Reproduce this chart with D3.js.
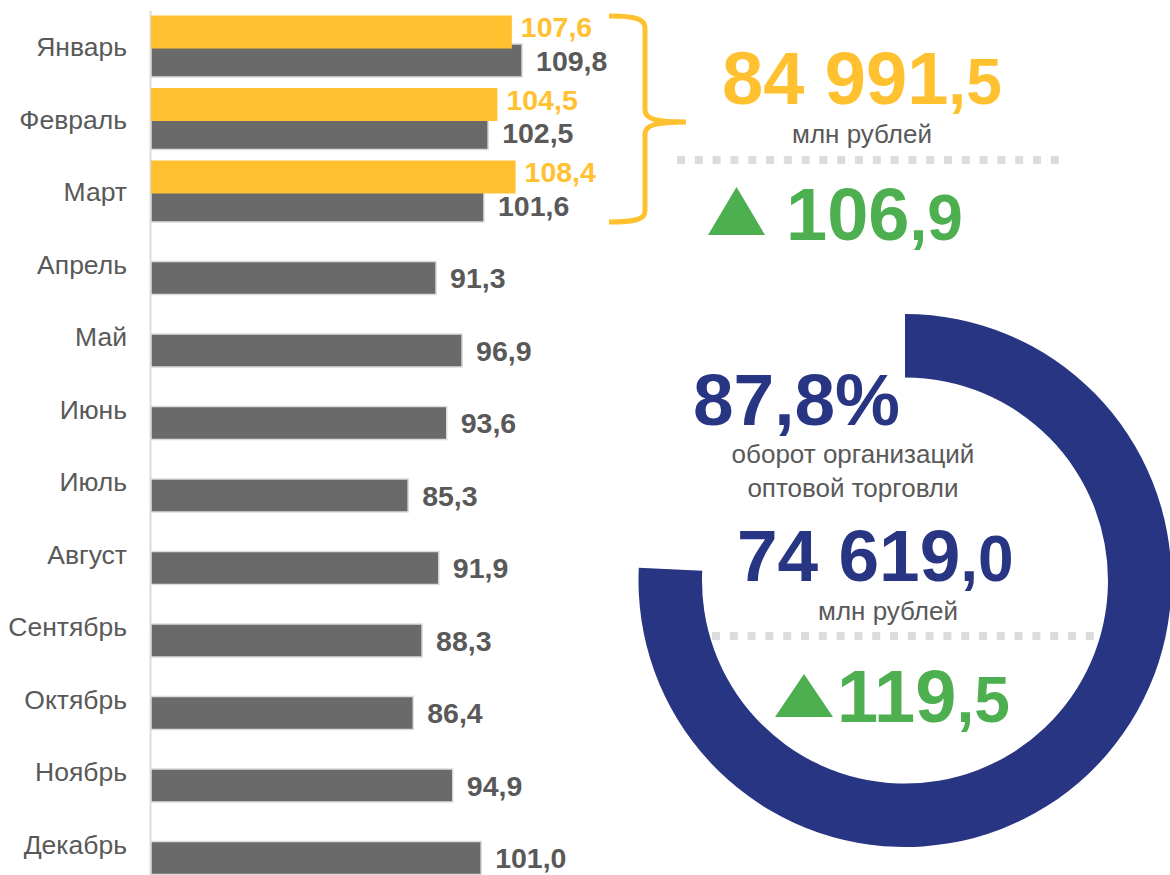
<!DOCTYPE html>
<html>
<head>
<meta charset="utf-8">
<script src="https://cdn.jsdelivr.net/npm/d3@7"></script>
<style>
  html, body { margin: 0; padding: 0; background: #ffffff; }
  svg { display: block; font-family: "Liberation Sans", Arial, sans-serif; }
</style>
</head>
<body>
<script>
// ---------- data ----------
const months = ["Январь", "Февраль", "Март", "Апрель", "Май", "Июнь",
                "Июль", "Август", "Сентябрь", "Октябрь", "Ноябрь", "Декабрь"];
const previousYear = [109.8, 102.5, 101.6, 91.3, 96.9, 93.6, 85.3, 91.9, 88.3, 86.4, 94.9, 101.0];
const currentYear = [107.6, 104.5, 108.4];

const quarterTotal = 84991.5;        // млн рублей
const quarterIndex = 106.9;
const wholesaleShare = 87.8;         // %
const wholesaleTotal = 74619.0;      // млн рублей
const wholesaleIndex = 119.5;
const unitLabel = "млн рублей";
const wholesaleCaption = ["оборот организаций", "оптовой торговли"];

// ---------- styles ----------
const C_YELLOW = "#FFC12F";
const C_GRAY = "#6A6A6A";
const C_TEXT = "#595959";
const C_NAVY = "#283583";
const C_GREEN = "#4DAF50";
const C_LIGHT = "#DCDCDC";

const W = 1170, H = 875;
const svg = d3.select("body").append("svg").attr("width", W).attr("height", H);

const locale = d3.formatLocale({ decimal: ",", thousands: "\u00a0", grouping: [3], currency: ["", ""] });
const fmt = locale.format(",.1f");

// ---------- bar chart ----------
const axisX = 150;
const y = d3.scaleBand().domain(months).range([10.25, 10.25 + 12 * 72.5]).padding(0);
const x = d3.scaleLinear().domain([30, 130]).range([151, 616]);
const barH = 33;
const center = m => y(m) + y.bandwidth() / 2;

const prevData = months.map((m, i) => ({ m, v: previousYear[i] }));
const curData = currentYear.map((v, i) => ({ m: months[i], v }));

// axis
const axisG = svg.append("g").attr("transform", `translate(${axisX},0)`)
  .call(d3.axisLeft(y).tickSize(0).tickSizeOuter(0).tickPadding(23));
axisG.select(".domain").attr("stroke", C_LIGHT).attr("stroke-width", 2);
axisG.selectAll(".tick text")
  .attr("fill", C_TEXT).attr("font-size", 26.5)
  .attr("font-family", "Liberation Sans, Arial, sans-serif")
  .attr("dy", "0.36em");

// gray bars (previous year)
svg.append("g").selectAll("rect").data(prevData).join("rect")
  .attr("x", x(30))
  .attr("y", d => center(d.m) - 2.5)
  .attr("width", d => x(d.v) - x(30))
  .attr("height", barH)
  .attr("fill", C_GRAY)
  .attr("stroke", C_LIGHT)
  .attr("stroke-width", 1.5);

// yellow bars (current year)
svg.append("g").selectAll("rect").data(curData).join("rect")
  .attr("x", x(30))
  .attr("y", d => center(d.m) - 31)
  .attr("width", d => x(d.v) - x(30))
  .attr("height", barH)
  .attr("fill", C_YELLOW);

// labels
svg.append("g").selectAll("text").data(prevData).join("text")
  .attr("x", d => x(d.v) + 14)
  .attr("y", d => center(d.m) - 2.5 + barH / 2 + 10)
  .attr("font-size", 28.5).attr("font-weight", "bold").attr("fill", C_TEXT)
  .text(d => fmt(d.v));

svg.append("g").selectAll("text").data(curData).join("text")
  .attr("x", d => x(d.v) + 9)
  .attr("y", d => center(d.m) - 31 + barH / 2 + 5)
  .attr("font-size", 28.5).attr("font-weight", "bold").attr("fill", C_YELLOW)
  .text(d => fmt(d.v));

// ---------- brace ----------
svg.append("path")
  .attr("d", "M609,16 C636,16 645,19 645,28 L645,110 C645,119 656,122 686,122 " +
             "M686,122 C656,122 645,125 645,134 L645,211 C645,219 636,222 609,222")
  .attr("fill", "none").attr("stroke", C_YELLOW).attr("stroke-width", 5)
  .attr("stroke-linecap", "butt");

// ---------- helpers ----------
function bigNumber(xp, yp, value, color, size, decSize) {
  const s = fmt(value);
  const k = s.lastIndexOf(",");
  const t = svg.append("text").attr("x", xp).attr("y", yp)
    .attr("fill", color).attr("font-weight", "bold");
  t.append("tspan").attr("font-size", size).text(s.slice(0, k));
  t.append("tspan").attr("font-size", decSize).text(s.slice(k));
}
function triangle(x0, x1, yTop, yBot) {
  svg.append("path")
    .attr("d", `M${x0},${yBot} L${x1},${yBot} L${(x0 + x1) / 2},${yTop} Z`)
    .attr("fill", C_GREEN);
}
function dotted(x0, x1, yp) {
  svg.append("line").attr("x1", x0).attr("x2", x1).attr("y1", yp).attr("y2", yp)
    .attr("stroke", C_LIGHT).attr("stroke-width", 8).attr("stroke-dasharray", "8,9.8");
}
function caption(cx, yp, txt) {
  svg.append("text").attr("x", cx).attr("y", yp).attr("text-anchor", "middle")
    .attr("font-size", 26).attr("fill", C_TEXT).text(txt);
}

// ---------- upper summary ----------
bigNumber(722, 104, quarterTotal, C_YELLOW, 74, 64);
caption(862, 143, unitLabel);
dotted(677, 1060, 160);
triangle(708, 765, 187, 235);
bigNumber(786, 240, quarterIndex, C_GREEN, 74, 64);

// ---------- donut ----------
const arc = d3.arc().innerRadius(203).outerRadius(266.5)
  .startAngle(0).endAngle(4.76);
svg.append("path").attr("transform", "translate(905,580.5)")
  .attr("d", arc()).attr("fill", C_NAVY);

svg.append("text").attr("x", 693).attr("y", 425)
  .attr("fill", C_NAVY).attr("font-weight", "bold").attr("font-size", 73)
  .text(locale.format(".1f")(wholesaleShare) + "%");
caption(853, 463, wholesaleCaption[0]);
caption(853, 497, wholesaleCaption[1]);
bigNumber(737, 581, wholesaleTotal, C_NAVY, 73, 64);
caption(888, 620, unitLabel);
dotted(712, 1098, 636);
triangle(775, 833, 674, 717);
bigNumber(837, 722, wholesaleIndex, C_GREEN, 74, 64);
</script>
</body>
</html>
